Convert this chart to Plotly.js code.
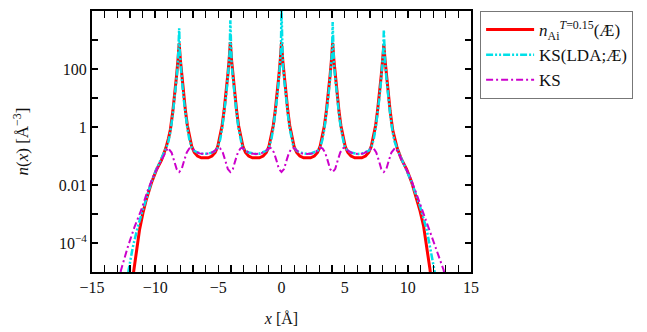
<!DOCTYPE html>
<html>
<head>
<meta charset="utf-8">
<script src="https://cdn.plot.ly/plotly-3.0.1.min.js"></script>
<style>html,body{margin:0;padding:0;background:#fff;}#chart{width:647px;height:332px;}</style>
</head>
<body>
<div id="chart"></div>
<script>
// Values; y values are given as log10(n) exponents.
const redX = [-11.9,-11.7,-11.5,-11.24,-10.97,-10.7,-10.3,-9.9,-9.5,-9.15,-8.95,-8.8,-8.6,-8.45,-8.3,-8.2,-8.1,
  -8.0,-7.9,-7.75,-7.6,-7.45,-7.3,-7.2,-7.1,-6.9,-6.65,-6.35,-6.075,
  -5.8,-5.5,-5.25,-5.05,-4.95,-4.85,-4.7,-4.55,-4.4,-4.25,-4.15,-4.05,
  -3.95,-3.85,-3.7,-3.55,-3.4,-3.25,-3.15,-3.05,-2.85,-2.6,-2.3,-2.025,
  -1.75,-1.45,-1.2,-1.0,-0.9,-0.8,-0.65,-0.5,-0.35,-0.2,-0.1,0,
  0.1,0.2,0.35,0.5,0.65,0.8,0.9,1.0,1.2,1.45,1.75,2.025,
  2.3,2.6,2.85,3.05,3.15,3.25,3.4,3.55,3.7,3.85,3.95,4.05,
  4.15,4.25,4.4,4.55,4.7,4.85,4.95,5.05,5.25,5.5,5.8,6.075,
  6.35,6.65,6.9,7.1,7.2,7.3,7.45,7.6,7.75,7.9,8.0,8.1,
  8.2,8.3,8.45,8.6,8.8,8.95,9.15,9.5,9.9,10.3,10.7,10.97,11.24,11.5,11.75,11.95];
const redLog = [-5.6,-4.93,-4.34,-3.55,-2.97,-2.5,-1.93,-1.48,-1.14,-0.72,-0.4,-0.1,0.55,1.1,1.8,2.3,2.88,
  2.3,1.8,1.1,0.55,0.05,-0.3,-0.5,-0.68,-0.88,-1.0,-1.06,-1.07,
  -1.06,-1.0,-0.88,-0.68,-0.5,-0.3,0.05,0.55,1.1,1.8,2.3,2.93,
  2.3,1.8,1.1,0.55,0.05,-0.3,-0.5,-0.68,-0.88,-1.0,-1.06,-1.07,
  -1.06,-1.0,-0.88,-0.68,-0.5,-0.3,0.05,0.55,1.1,1.8,2.3,2.92,
  2.3,1.8,1.1,0.55,0.05,-0.3,-0.5,-0.68,-0.88,-1.0,-1.06,-1.07,
  -1.06,-1.0,-0.88,-0.68,-0.5,-0.3,0.05,0.55,1.1,1.8,2.3,2.9,
  2.3,1.8,1.1,0.55,0.05,-0.3,-0.5,-0.68,-0.88,-1.0,-1.06,-1.07,
  -1.06,-1.0,-0.88,-0.68,-0.5,-0.3,0.05,0.55,1.1,1.8,2.3,2.85,
  2.3,1.8,1.1,0.55,-0.1,-0.4,-0.72,-1.12,-1.45,-1.9,-2.45,-2.9,-3.4,-4.1,-4.9,-5.6];

const cyanX = [-12.3,-12.1,-11.77,-11.38,-10.97,-10.7,-10.3,-9.9,-9.5,-9.15,-8.95,-8.8,-8.6,-8.45,-8.3,-8.2,-8.15,-8.1,
  -8.05,-8.0,-7.9,-7.75,-7.6,-7.45,-7.3,-7.2,-7.1,-6.9,-6.65,-6.35,-6.075,
  -5.8,-5.5,-5.25,-5.05,-4.95,-4.85,-4.7,-4.55,-4.4,-4.25,-4.15,-4.1,-4.05,
  -4.0,-3.95,-3.85,-3.7,-3.55,-3.4,-3.25,-3.15,-3.05,-2.85,-2.6,-2.3,-2.025,
  -1.75,-1.45,-1.2,-1.0,-0.9,-0.8,-0.65,-0.5,-0.35,-0.2,-0.1,-0.05,0,
  0.05,0.1,0.2,0.35,0.5,0.65,0.8,0.9,1.0,1.2,1.45,1.75,2.025,
  2.3,2.6,2.85,3.05,3.15,3.25,3.4,3.55,3.7,3.85,3.95,4.0,4.05,
  4.1,4.15,4.25,4.4,4.55,4.7,4.85,4.95,5.05,5.25,5.5,5.8,6.075,
  6.35,6.65,6.9,7.1,7.2,7.3,7.45,7.6,7.75,7.9,8.0,8.05,8.1,
  8.15,8.2,8.3,8.45,8.6,8.8,8.95,9.15,9.5,9.9,10.3,10.7,10.98,11.5,11.8,12.1,12.3];
const cyanLog = [-5.6,-4.93,-4.14,-3.45,-2.85,-2.45,-1.9,-1.45,-1.1,-0.75,-0.5,-0.18,0.45,1.0,1.7,2.2,2.6,3.4,
  2.6,2.2,1.7,1.0,0.45,-0.05,-0.42,-0.6,-0.72,-0.82,-0.88,-0.92,-0.93,
  -0.92,-0.88,-0.82,-0.72,-0.6,-0.42,-0.05,0.45,1.0,1.7,2.2,2.6,3.68,
  2.6,2.2,1.7,1.0,0.45,-0.05,-0.42,-0.6,-0.72,-0.82,-0.88,-0.92,-0.93,
  -0.92,-0.88,-0.82,-0.72,-0.6,-0.42,-0.05,0.45,1.0,1.7,2.2,2.6,4.1,
  2.6,2.2,1.7,1.0,0.45,-0.05,-0.42,-0.6,-0.72,-0.82,-0.88,-0.92,-0.93,
  -0.92,-0.88,-0.82,-0.72,-0.6,-0.42,-0.05,0.45,1.0,1.7,2.2,2.6,3.62,
  2.6,2.2,1.7,1.0,0.45,-0.05,-0.42,-0.6,-0.72,-0.82,-0.88,-0.92,-0.93,
  -0.92,-0.88,-0.82,-0.72,-0.6,-0.42,-0.05,0.45,1.0,1.7,2.2,2.6,3.35,
  2.6,2.2,1.7,1.0,0.45,-0.18,-0.5,-0.75,-1.1,-1.45,-1.9,-2.4,-2.76,-3.55,-4.2,-4.93,-5.6];

const magX = [-13.0,-12.7,-12.17,-11.64,-11.1,-10.6,-10.1,-9.5,-9.2,-9.0,-8.7,-8.5,-8.3,-8.1,
  -7.9,-7.7,-7.5,-7.3,-7.2,-7.05,-6.8,-6.5,-6.075,
  -5.65,-5.35,-5.1,-4.95,-4.85,-4.65,-4.45,-4.25,-4.05,
  -3.85,-3.65,-3.45,-3.25,-3.15,-3.0,-2.75,-2.45,-2.025,
  -1.6,-1.3,-1.05,-0.9,-0.8,-0.6,-0.4,-0.2,0,
  0.2,0.4,0.6,0.8,0.9,1.05,1.3,1.6,2.025,
  2.45,2.75,3.0,3.15,3.25,3.45,3.65,3.85,4.05,
  4.25,4.45,4.65,4.85,4.95,5.1,5.35,5.65,6.075,
  6.5,6.8,7.05,7.2,7.3,7.5,7.7,7.9,8.1,
  8.3,8.5,8.7,9.0,9.2,9.5,10.1,10.6,11.1,11.5,12.04,12.4,12.83,13.1];
const magLog = [-5.5,-4.93,-4.14,-3.45,-2.86,-2.2,-1.65,-1.12,-0.85,-0.72,-0.88,-1.15,-1.45,-1.55,
  -1.45,-1.15,-0.88,-0.74,-0.72,-0.75,-0.84,-0.91,-0.93,
  -0.91,-0.84,-0.75,-0.72,-0.74,-0.88,-1.15,-1.45,-1.55,
  -1.45,-1.15,-0.88,-0.74,-0.72,-0.75,-0.84,-0.91,-0.93,
  -0.91,-0.84,-0.75,-0.72,-0.74,-0.88,-1.15,-1.45,-1.55,
  -1.45,-1.15,-0.88,-0.74,-0.72,-0.75,-0.84,-0.91,-0.93,
  -0.91,-0.84,-0.75,-0.72,-0.74,-0.88,-1.15,-1.45,-1.55,
  -1.45,-1.15,-0.88,-0.74,-0.72,-0.75,-0.84,-0.91,-0.93,
  -0.91,-0.84,-0.75,-0.72,-0.74,-0.88,-1.15,-1.45,-1.55,
  -1.45,-1.15,-0.88,-0.72,-0.85,-1.12,-1.65,-2.2,-2.8,-3.3,-3.9,-4.4,-4.93,-5.5];

const seriesNames = ['<i>n</i><sub>Ai</sub><sup><i>T</i>=0.15</sup>(Æ)', 'KS(LDA;Æ)', 'KS'];
const yMajorVals = [1e-4, 1e-2, 1, 100, 1e4];
const yMajorText = ['10<sup>−4</sup>', '0.01', '1', '100', '10<sup>4</sup>'];
const yMinorVals = [1e-5, 1e-3, 1e-1, 10, 1e3];
const xTickVals = [-15,-10,-5,0,5,10,15];
const xTickText = ['−15','−10','−5','0','5','10','15'];

const toVal = a => a.map(v => Math.pow(10, v));
const fam = '"Liberation Serif", "Times New Roman", serif';
const font = {family: fam, size: 16, color: '#111'};
const legFont = {family: fam, size: 17, color: '#111'};

const traces = [
  {x: redX, y: toVal(redLog), name: seriesNames[0], mode: 'lines', line: {color: '#ff0000', width: 3}},
  {x: cyanX, y: toVal(cyanLog), name: seriesNames[1], mode: 'lines', line: {color: '#00e0e8', width: 2.5, dash: '7px,2px,2px,2px,2px,2px'}},
  {x: magX, y: toVal(magLog), name: seriesNames[2], mode: 'lines', line: {color: '#cc00cc', width: 2, dash: '7px,3px,2px,3px'}},
  // invisible helper trace carrying the unlabeled decade ticks on a second y axis
  {x: [0], y: [1], yaxis: 'y2', mode: 'lines', showlegend: false, hoverinfo: 'skip', line: {width: 0}, opacity: 0}
];

const layout = {
  width: 647, height: 332,
  margin: {l: 92, r: 176, t: 11, b: 60},
  paper_bgcolor: '#fff', plot_bgcolor: '#fff',
  font: font,
  showlegend: true,
  legend: {x: 1.024, y: 1.0, xanchor: 'left', yanchor: 'top', traceorder: 'normal',
    bordercolor: '#777', borderwidth: 1, bgcolor: '#fff', font: legFont, itemwidth: 48},
  xaxis: {range: [-15, 15], tickmode: 'array', tickvals: xTickVals, ticktext: xTickText,
    ticks: 'inside', ticklen: 7, tickwidth: 1.5, tickcolor: '#000',
    minor: {dtick: 1, tick0: 0, ticks: 'inside', ticklen: 4, tickwidth: 1.2, tickcolor: '#000', showgrid: false},
    showline: true, linecolor: '#000', linewidth: 2, mirror: 'allticks', showgrid: false, zeroline: false,
    title: {text: '<i>x</i> [Å]', font: font, standoff: 18}},
  yaxis: {type: 'log', range: [-5, 4], tickmode: 'array', tickvals: yMajorVals, ticktext: yMajorText,
    ticks: 'inside', ticklen: 6, tickwidth: 1.5, tickcolor: '#000',
    showline: true, linecolor: '#000', linewidth: 2, mirror: 'allticks', showgrid: false, zeroline: false,
    title: {text: '<i>n</i>(<i>x</i>) [Å<sup>−3</sup>]', font: {family: fam, size: 17, color: '#111'}, standoff: 26}},
  yaxis2: {type: 'log', range: [-5, 4], overlaying: 'y', side: 'left', tickmode: 'array', tickvals: yMinorVals,
    showticklabels: false, ticks: 'inside', ticklen: 6, tickwidth: 1.5, tickcolor: '#000',
    showline: false, mirror: 'allticks', showgrid: false, zeroline: false}
};

Plotly.newPlot('chart', traces, layout, {staticPlot: true, displayModeBar: false});
</script>
</body>
</html>
